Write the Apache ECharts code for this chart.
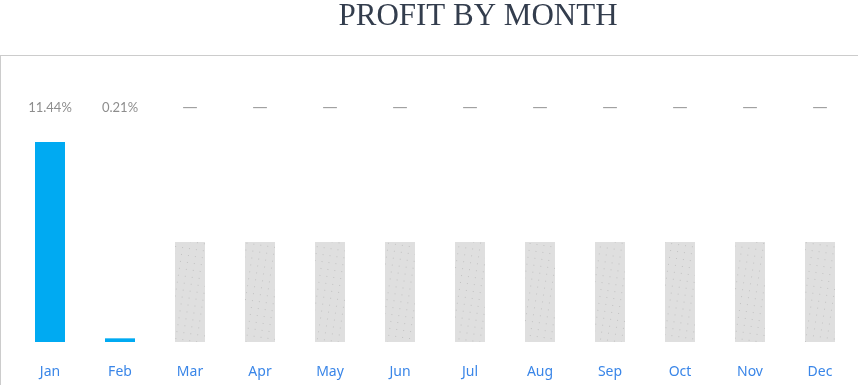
<!DOCTYPE html>
<html>
<head>
<meta charset="utf-8">
<script src="https://cdn.jsdelivr.net/npm/echarts@6/dist/echarts.min.js"></script>
<style>
  html, body { margin: 0; padding: 0; background: #fff; }
  #chart { width: 858px; height: 385px; }
</style>
</head>
<body>
<div id="chart"></div>
<script>
// Monthly profit, percent
const months = ['Jan', 'Feb', 'Mar', 'Apr', 'May', 'Jun', 'Jul', 'Aug', 'Sep', 'Oct', 'Nov', 'Dec'];
const profit = [11.44, 0.21, null, null, null, null, null, null, null, null, null, null];
// Placeholder height for months without data yet
const placeholder = [null, null, 5.72, 5.72, 5.72, 5.72, 5.72, 5.72, 5.72, 5.72, 5.72, 5.72];

const yMax = 13.39;
const labelRow = months.map(() => yMax);

const chart = echarts.init(document.getElementById('chart'));
chart.setOption({
  animation: false,
  title: {
    text: 'PROFIT BY MONTH',
    left: 473,
    textAlign: 'center',
    top: -4,
    textStyle: { fontFamily: 'Liberation Serif', fontWeight: 'normal', fontSize: 31, color: '#333d4d' }
  },
  graphic: [
    { type: 'line', shape: { x1: 0, y1: 55.5, x2: 858, y2: 55.5 }, style: { stroke: '#cccccc', lineWidth: 1 } },
    { type: 'line', shape: { x1: 0.5, y1: 55, x2: 0.5, y2: 385 }, style: { stroke: '#cccccc', lineWidth: 1 } }
  ],
  grid: { left: 15, right: 3, top: 108, bottom: 43 },
  xAxis: {
    type: 'category',
    data: months,
    axisLine: { show: false },
    axisTick: { show: false },
    axisLabel: { color: '#3a86e8', fontSize: 14, fontFamily: 'Noto Sans', margin: 23 }
  },
  yAxis: { type: 'value', min: 0, max: yMax, show: false, splitLine: { show: false } },
  series: [
    {
      type: 'bar',
      data: placeholder,
      barWidth: 30,
      barGap: '-100%',
      itemStyle: {
        color: '#dfdfdf',
        decal: {
          symbol: 'rect',
          symbolSize: 1,
          color: '#c2c2c2',
          dashArrayX: [[1, 6]],
          dashArrayY: [1, 6],
          rotation: 0.15
        }
      },
      silent: true
    },
    {
      type: 'bar',
      data: profit,
      barWidth: 30,
      barGap: '-100%',
      itemStyle: { color: '#00aaf2' }
    },
    {
      type: 'scatter',
      data: labelRow,
      symbolSize: 0,
      silent: true,
      label: {
        show: true,
        position: 'inside',
        color: '#707070',
        fontSize: 13,
        fontFamily: 'Lato',
        rich: { dash: { fontFamily: 'Noto Sans', fontSize: 15, color: '#8a8a8a' } },
        formatter: (p) => profit[p.dataIndex] == null ? '{dash|—}' : profit[p.dataIndex].toFixed(2) + '%'
      }
    }
  ]
});
</script>
</body>
</html>
